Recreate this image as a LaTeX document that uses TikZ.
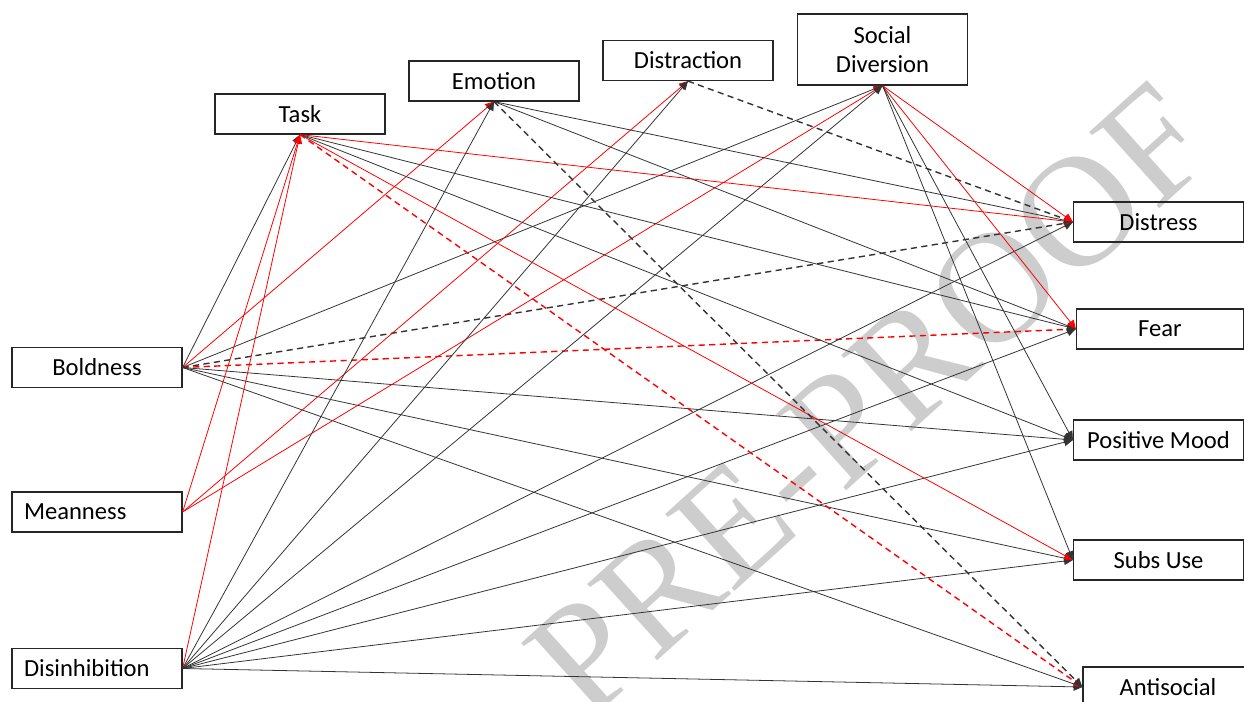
\documentclass[tikz,border=0pt]{standalone}
\usepackage{fontspec}
\setmainfont{Carlito}
\newfontfamily\wmfont{Liberation Serif}
\usepackage{xcolor}
\definecolor{wmgray}{HTML}{CDCDCD}
\usepackage{tikz}
\usetikzlibrary{arrows.meta, positioning}

\begin{document}
\begin{tikzpicture}[
        x=0.02cm, y=-0.02cm,
        var/.style={draw=black!85, line width=0.7pt, rectangle, minimum width=3.4cm, minimum height=0.8cm, inner sep=0pt, align=center, font=\fontsize{14}{17}\selectfont},
        varleft/.style={var, text width=2.92cm, align=left, inner xsep=0.24cm},
        link/.style={-{Triangle[length=5pt, width=4.5pt]}, line width=0.45pt, draw=black!80},
        rlink/.style={link, draw=red},
        dlink/.style={link, line width=0.8pt, dash pattern=on 3.5pt off 2.5pt},
        rdlink/.style={dlink, draw=red}
    ]
        \useasboundingbox (0,0) rectangle (1244,702);

        % Watermark
        \node[rotate=42, inner sep=0pt, text=wmgray, font=\wmfont\fontsize{90}{90}\selectfont] (stamp) at (870,400) {PRE-PROOF};

        % Predictors
        \node[var] (boldness) at (97,367.5) {Boldness};
        \node[varleft] (meanness) at (97,512) {Meanness};
        \node[varleft] (disinhib) at (97,668.5) {Disinhibition};

        % Mediators
        \node[var] (task) at (300,114) {Task};
        \node[var] (emotion) at (494,81) {Emotion};
        \node[var] (distraction) at (688,60.5) {Distraction};
        \node[var, minimum height=1.42cm] (social) at (882.5,49.5) {Social\\Diversion};

        % Outcomes
        \node[var] (distress) at (1158.5,222) {Distress};
        \node[var, minimum width=3.34cm] (fear) at (1160,329) {Fear};
        \node[var] (mood) at (1158.5,440) {Positive Mood};
        \node[var] (subs) at (1158.5,560) {Subs Use};
        \node[var] (antisocial) at (1168,687) {Antisocial};

        % Boldness paths
        \draw[link] (boldness.east) -- (task.south);
        \draw[rlink] (boldness.east) -- (emotion.south);
        \draw[link] (boldness.east) -- (social.south);
        \draw[dlink] (boldness.east) -- (distress.west);
        \draw[rdlink] (boldness.east) -- (fear.west);
        \draw[link] (boldness.east) -- (mood.west);
        \draw[link] (boldness.east) -- (subs.west);
        \draw[link] (boldness.east) -- (antisocial.west);

        % Meanness paths
        \draw[rlink] (meanness.east) -- (task.south);
        \draw[rlink] (meanness.east) -- (distraction.south);
        \draw[rlink] (meanness.east) -- (social.south);

        % Disinhibition paths
        \draw[rlink] (disinhib.east) -- (task.south);
        \draw[link] (disinhib.east) -- (emotion.south);
        \draw[link] (disinhib.east) -- (distraction.south);
        \draw[link] (disinhib.east) -- (social.south);
        \draw[link] (disinhib.east) -- (distress.west);
        \draw[link] (disinhib.east) -- (fear.west);
        \draw[link] (disinhib.east) -- (mood.west);
        \draw[link] (disinhib.east) -- (subs.west);
        \draw[link] (disinhib.east) -- (antisocial.west);

        % Task paths
        \draw[rlink] (task.south) -- (distress.west);
        \draw[link] (task.south) -- (fear.west);
        \draw[link] (task.south) -- (mood.west);
        \draw[rlink] (task.south) -- (subs.west);
        \draw[rdlink] (task.south) -- (antisocial.west);

        % Emotion paths
        \draw[link] (emotion.south) -- (distress.west);
        \draw[link] (emotion.south) -- (fear.west);
        \draw[dlink] (emotion.south) -- (antisocial.west);

        % Distraction paths
        \draw[dlink] (distraction.south) -- (distress.west);

        % Social diversion paths
        \draw[rlink] (social.south) -- (distress.west);
        \draw[rlink] (social.south) -- (fear.west);
        \draw[link] (social.south) -- (mood.west);
        \draw[link] (social.south) -- (subs.west);
    \end{tikzpicture}
\end{document}
